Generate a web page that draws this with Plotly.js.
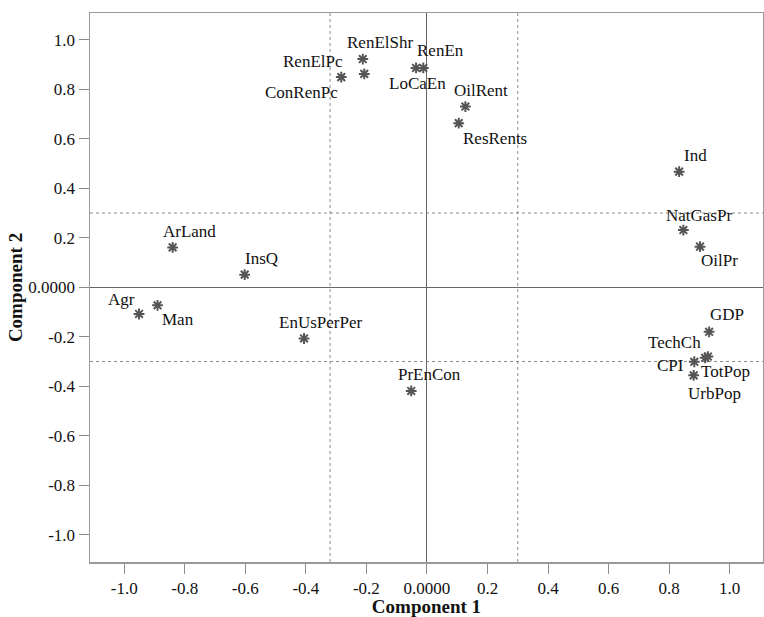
<!DOCTYPE html>
<html>
<head>
<meta charset="utf-8">
<script src="https://cdn.plot.ly/plotly-3.0.1.min.js"></script>
<style>
  html, body { margin: 0; padding: 0; background: #fff; }
  #chart { width: 764px; height: 617px; }
</style>
</head>
<body>
<div id="chart"></div>
<script>
// Variables (loadings on the two components)
const labels = ["RenElShr","RenElPc","ConRenPc","RenEn","LoCaEn","OilRent","ResRents",
                "Ind","NatGasPr","OilPr","GDP","TechCh","TotPop","CPI","UrbPop",
                "ArLand","InsQ","Agr","Man","EnUsPerPer","PrEnCon"];
const component1 = [-0.212,-0.207,-0.283,-0.012,-0.036,0.127,0.105,
                    0.833,0.847,0.902,0.932,0.919,0.928,0.883,0.881,
                    -0.840,-0.602,-0.951,-0.890,-0.406,-0.052];
const component2 = [0.922,0.862,0.849,0.886,0.886,0.730,0.663,
                    0.467,0.231,0.164,-0.180,-0.285,-0.280,-0.301,-0.356,
                    0.161,0.051,-0.108,-0.073,-0.207,-0.419];

// Label offsets from their point, in pixels (right, down)
const labelDx = [17,-51,-40,17,1,16,36, 16,16,19,18,-31,18,-24,21, 17,17,-18,20,16,18];
const labelDy = [-17,-12,15,-17,16,-16,15, -16,-15,14,-17,-15,15,4,18, -16,-16,-14,14,-16,-16];

// Axis ticks
const tickVals = [-1.0,-0.8,-0.6,-0.4,-0.2,0,0.2,0.4,0.6,0.8,1.0];
const tickText = ["-1.0","-0.8","-0.6","-0.4","-0.2","0.0000","0.2","0.4","0.6","0.8","1.0"];

// Reference lines
const refLinesX = [-0.32, 0.30];
const refLinesY = [-0.30, 0.30];

const FONT = "'Liberation Serif'";

const trace = {
  x: component1,
  y: component2,
  text: labels,
  type: "scatter",
  mode: "markers",
  marker: {
    symbol: "asterisk-open",
    size: 9,
    color: "#555555",
    line: { color: "#555555", width: 2 }
  },
  hoverinfo: "text+x+y",
  showlegend: false
};

const annotations = labels.map((t, i) => ({
  x: component1[i],
  y: component2[i],
  text: t,
  showarrow: false,
  xshift: labelDx[i],
  yshift: -labelDy[i],
  xanchor: "center",
  yanchor: "middle",
  font: { family: FONT, size: 17, color: "#111111" }
}));

const shapes = [];
refLinesX.forEach(v => shapes.push({
  type: "line", xref: "x", yref: "paper", x0: v, x1: v, y0: 0, y1: 1,
  line: { color: "#8a8a8a", width: 1, dash: "dot" }, layer: "below"
}));
refLinesY.forEach(v => shapes.push({
  type: "line", xref: "paper", yref: "y", x0: 0, x1: 1, y0: v, y1: v,
  line: { color: "#8a8a8a", width: 1, dash: "dot" }, layer: "below"
}));

const axisCommon = {
  tickmode: "array",
  tickvals: tickVals,
  ticktext: tickText,
  ticks: "outside",
  ticklen: 10,
  tickwidth: 1,
  tickcolor: "#8c8c8c",
  showline: true,
  linecolor: "#9a9a9a",
  linewidth: 1.5,
  mirror: true,
  showgrid: false,
  zeroline: true,
  zerolinecolor: "#666666",
  zerolinewidth: 1,
  tickfont: { family: FONT, size: 17, color: "#111111" }
};

const layout = {
  width: 764,
  height: 617,
  margin: { l: 90, r: 1, t: 13, b: 55 },
  paper_bgcolor: "#ffffff",
  plot_bgcolor: "#ffffff",
  font: { family: FONT },
  xaxis: Object.assign({}, axisCommon, {
    range: [-1.113, 1.11],
    title: { text: "<b>Component 1</b>", font: { family: FONT, size: 19, color: "#111111" }, standoff: 4 }
  }),
  yaxis: Object.assign({}, axisCommon, {
    range: [-1.11, 1.108],
    title: { text: "<b>Component 2</b>", font: { family: FONT, size: 19, color: "#111111" }, standoff: 0 }
  }),
  shapes: shapes,
  annotations: annotations
};

Plotly.newPlot("chart", [trace], layout, { displayModeBar: false, staticPlot: true });
</script>
</body>
</html>
